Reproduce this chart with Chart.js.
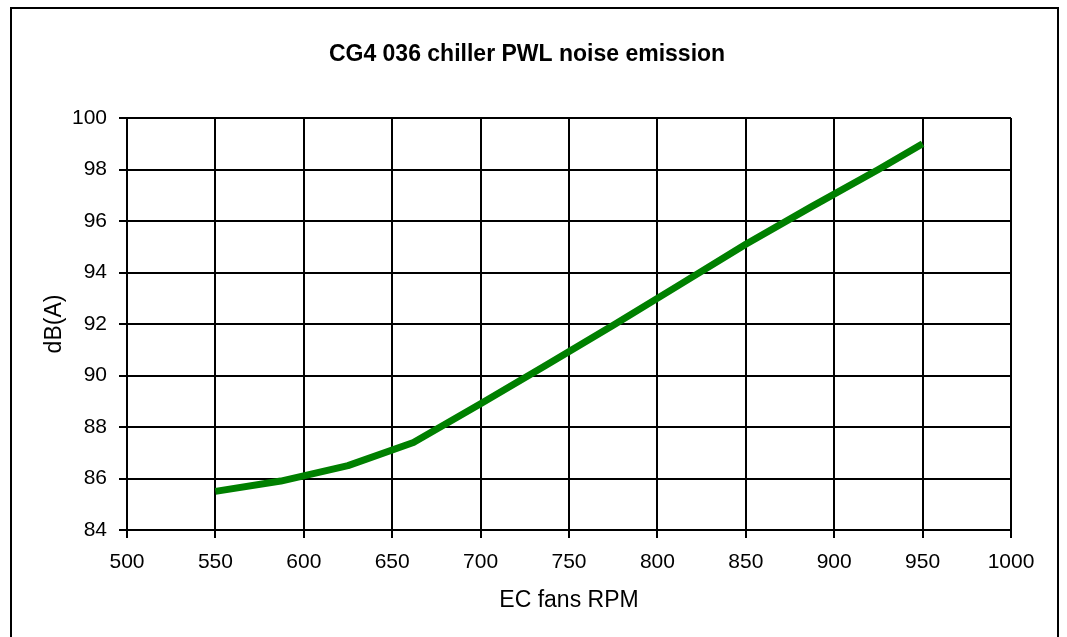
<!DOCTYPE html>
<html>
<head>
<meta charset="utf-8">
<script src="https://cdn.jsdelivr.net/npm/chart.js@4/dist/chart.umd.min.js"></script>
<style>
  html, body { margin: 0; padding: 0; background: #fff; }
  #wrap { position: relative; width: 1067px; height: 637px; overflow: hidden; }
  #frame { position: absolute; left: 10px; top: 7px; width: 1049px; height: 640px; border: 2px solid #000; box-sizing: border-box; pointer-events: none; }
  canvas { position: absolute; left: 0; top: 0; }
</style>
</head>
<body>
<div id="wrap">
  <canvas id="c" width="1067" height="637"></canvas>
  <div id="frame"></div>
</div>
<script>
const chartTitle = 'CG4 036 chiller PWL noise emission';
const xAxisTitle = 'EC fans RPM';
const yAxisTitle = 'dB(A)';
const rpm = [550, 587, 625, 662, 700, 737, 775, 812, 850, 887, 925, 950];
const noise = [85.5, 85.9, 86.5, 87.4, 88.9, 90.4, 91.95, 93.5, 95.1, 96.55, 98.0, 99.0];
const xTicks = [500, 550, 600, 650, 700, 750, 800, 850, 900, 950, 1000];
const yTicks = [84, 86, 88, 90, 92, 94, 96, 98, 100];

const FONT = "'Liberation Sans', Arial, sans-serif";

new Chart(document.getElementById('c'), {
  type: 'line',
  data: {
    datasets: [{
      data: rpm.map((x, i) => ({ x: x, y: noise[i] })),
      borderColor: '#008000',
      borderWidth: 7,
      borderJoinStyle: 'round',
      pointRadius: 0,
      tension: 0,
      fill: false
    }]
  },
  options: {
    responsive: false,
    animation: false,
    layout: { padding: { left: 43, right: 56, top: 0, bottom: 0 } },
    plugins: {
      legend: { display: false },
      tooltip: { enabled: false },
      title: {
        display: true,
        text: chartTitle,
        color: '#000',
        font: { family: FONT, size: 23, weight: 'bold', lineHeight: 1.2 },
        padding: { top: 41, bottom: 49.4 }
      }
    },
    scales: {
      x: {
        type: 'linear',
        min: xTicks[0],
        max: xTicks[xTicks.length - 1],
        afterBuildTicks: (s) => { s.ticks = xTicks.map(v => ({ value: v })); },
        afterFit: (s) => { s.height = 107; },
        grid: { color: '#000', lineWidth: 2, tickLength: 8, drawTicks: true },
        border: { color: '#000', width: 2 },
        ticks: { color: '#000', font: { family: FONT, size: 21 }, padding: 12, maxRotation: 0, autoSkip: false,
                 callback: (v) => String(v) },
        title: { display: true, text: xAxisTitle, color: '#000', font: { family: FONT, size: 23, lineHeight: 1.2 }, padding: { top: 0, bottom: 23 } }
      },
      y: {
        type: 'linear',
        min: yTicks[0],
        max: yTicks[yTicks.length - 1],
        afterBuildTicks: (s) => { s.ticks = yTicks.map(v => ({ value: v })); },
        afterFit: (s) => { s.width = 84; },
        grid: { color: '#000', lineWidth: 2, tickLength: 8, drawTicks: true },
        border: { color: '#000', width: 2 },
        ticks: { color: '#000', font: { family: FONT, size: 21 }, padding: 12, autoSkip: false,
                 callback: (v) => String(v) },
        title: { display: true, text: yAxisTitle, color: '#000', font: { family: FONT, size: 23, lineHeight: 1 }, padding: { top: 0, bottom: 0 } }
      }
    }
  }
});
</script>
</body>
</html>
